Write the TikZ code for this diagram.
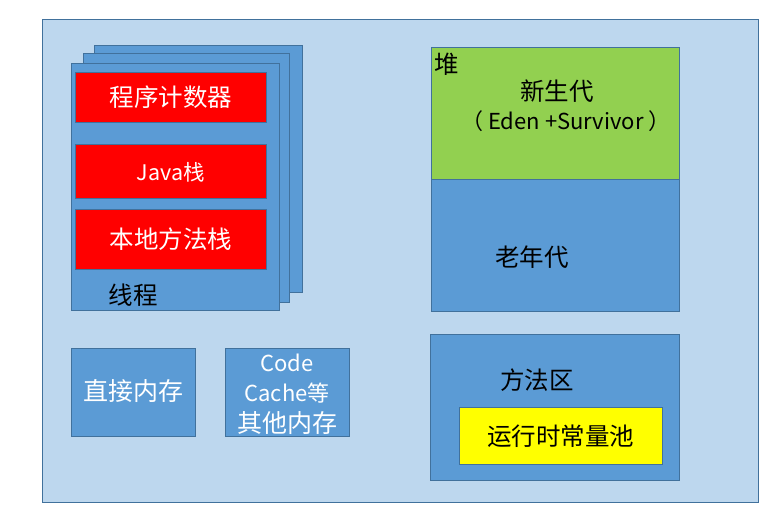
\documentclass[tikz,border=0pt]{standalone}
\usepackage{fontspec}
\setmainfont{Noto Sans CJK SC}
\definecolor{outerbg}{HTML}{BDD7EE}
\definecolor{bordc}{HTML}{41719C}
\definecolor{boxblue}{HTML}{5B9BD5}
\definecolor{boxred}{HTML}{FF0000}
\definecolor{boxgreen}{HTML}{92D050}
\definecolor{boxyellow}{HTML}{FFFF00}
\begin{document}
\begin{tikzpicture}[x=1pt,y=-1pt,
  area/.style={draw=bordc, line width=0.8pt, inner sep=0pt, anchor=north west},
  wtxt/.style={text=white, font=\fontsize{24.5}{27}\selectfont, inner sep=0pt},
  btxt/.style={text=black, font=\fontsize{24.5}{27}\selectfont, inner sep=0pt}]
\useasboundingbox (0,0) rectangle (782,518);
\fill[white] (0,0) rectangle (782,518);
% outer
\node[area, fill=outerbg, minimum width=716pt, minimum height=483pt] (outer) at (42,19) {};
% thread stack
\node[area, fill=boxblue, minimum width=208pt, minimum height=247pt] (th3) at (94,45) {};
\node[area, fill=boxblue, minimum width=206pt, minimum height=249pt] (th2) at (83,53) {};
\node[area, fill=boxblue, minimum width=208pt, minimum height=247pt] (th1) at (71,63) {};
\node[area, fill=boxred, minimum width=191pt, minimum height=50pt] (pc) at (75,72) {};
\node[area, fill=boxred, minimum width=191pt, minimum height=54pt] (js) at (75,144) {};
\node[area, fill=boxred, minimum width=191pt, minimum height=60pt] (ns) at (75,209) {};
\node[wtxt] (pct) at (pc.center) {程序计数器};
\node[wtxt, font=\fontsize{21.5}{24}\selectfont] (jst) at ([yshift=-1pt]js.center) {Java栈};
\node[wtxt] (nst) at (ns.center) {本地方法栈};
\node[btxt] (tht) at (133,295) {线程};
% heap
\node[area, fill=boxgreen, minimum width=248pt, minimum height=132pt] (young) at (431,47) {};
\node[area, fill=boxblue, minimum width=248pt, minimum height=132pt] (old) at (431,179) {};
\node[btxt] (heapt) at (447,64) {堆};
\node[btxt] (youngt) at (557,91) {新生代};
\node[btxt, font=\fontsize{22}{24}\selectfont] (edent) at (566,121) {（ Eden +Survivor ）};
\node[btxt] (oldt) at (532,257) {老年代};
% direct memory
\node[area, fill=boxblue, minimum width=124pt, minimum height=88pt] (dm) at (71,348) {};
\node[wtxt, font=\fontsize{25}{27}\selectfont] (dmt) at (133,391) {直接内存};
% code cache
\node[area, fill=boxblue, minimum width=124pt, minimum height=88pt] (cc) at (225,348) {};
\node[wtxt, font=\fontsize{22}{24}\selectfont] (cct1) at (287,363) {Code};
\node[wtxt, font=\fontsize{22}{24}\selectfont] (cct2) at (287,393) {Cache等};
\node[wtxt, font=\fontsize{25}{27}\selectfont] (cct3) at (287,423) {其他内存};
% method area
\node[area, fill=boxblue, minimum width=249pt, minimum height=146pt] (ma) at (430,334) {};
\node[btxt] (mat) at (537,380) {方法区};
\node[area, fill=boxyellow, minimum width=203pt, minimum height=57pt] (rcp) at (459,407) {};
\node[btxt] (rcpt) at (rcp.center) {运行时常量池};
\end{tikzpicture}
\end{document}
